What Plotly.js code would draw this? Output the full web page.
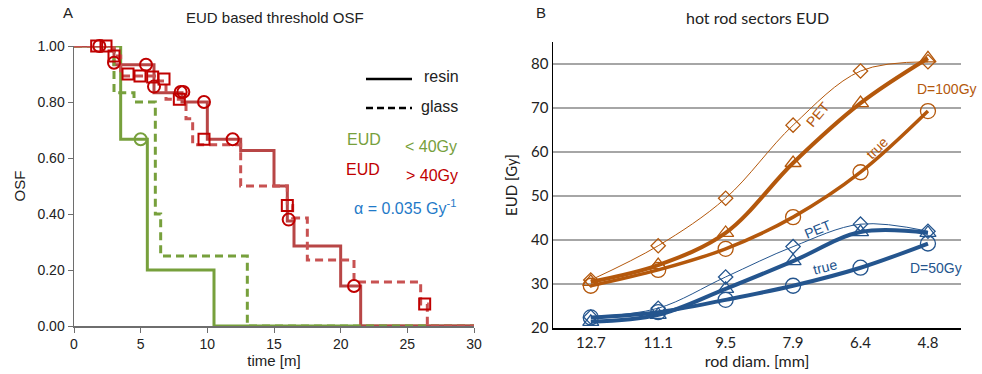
<!DOCTYPE html>
<html><head><meta charset="utf-8">
<script src="https://cdn.plot.ly/plotly-3.0.1.min.js"></script>
<style>html,body{margin:0;padding:0;background:#fff}#c{width:982px;height:374px}</style>
</head><body><div id="c"></div>
<script>
// ---- Panel A data (Kaplan-Meier style OSF steps) ----
const greenResinT = [0, 3.5, 5.5, 10.5, 30];
const greenResinS = [1.0, 0.667, 0.2, 0, 0];
const greenGlassT = [0, 3.0, 4.5, 6.1, 6.5, 13.0, 30];
const greenGlassS = [1.0, 0.833, 0.8, 0.4, 0.25, 0, 0];
const greenCensorT = [5.0];
const greenCensorS = [0.667];

const redResinT = [0, 3.0, 6.0, 8.1, 10.0, 12.5, 15.0, 16.0, 16.5, 20.0, 21.5, 30];
const redResinS = [1.0, 0.933, 0.833, 0.80, 0.667, 0.627, 0.5, 0.375, 0.286, 0.143, 0, 0];
const redResinCensorT = [1.9, 3.0, 5.4, 6.0, 8.0, 8.2, 9.75, 11.9, 16.1, 21.0];
const redResinCensorS = [1.0, 0.94, 0.933, 0.855, 0.836, 0.836, 0.80, 0.667, 0.38, 0.143];

const redGlassT = [0, 3.0, 3.5, 6.3, 6.9, 8.4, 8.9, 12.5, 16.0, 16.4, 17.5, 21.0, 26.0, 26.5, 30];
const redGlassS = [1.0, 0.964, 0.893, 0.875, 0.81, 0.74, 0.647, 0.5, 0.43, 0.386, 0.236, 0.157, 0.079, 0, 0];
const redGlassCensorT = [1.7, 2.4, 3.0, 4.05, 4.95, 5.9, 6.75, 7.9, 9.75, 16.0, 26.3];
const redGlassCensorS = [1.0, 1.0, 0.964, 0.9, 0.893, 0.889, 0.882, 0.81, 0.667, 0.43, 0.079];

// ---- Panel B data (EUD vs rod diameter) ----
const rodDiam = ["12.7", "11.1", "9.5", "7.9", "6.4", "4.8"];
const d100PET  = [30.9, 38.7, 49.5, 66.1, 78.4, 80.5];
const d100Tri  = [30.5, 34.3, 41.6, 57.5, 71.1, 81.3];
const d100True = [29.6, 33.2, 38.0, 45.2, 55.4, 69.3];
const d50PET   = [22.5, 24.5, 31.6, 38.5, 43.6, 42.0];
const d50Tri   = [21.4, 23.0, 28.9, 35.2, 41.8, 41.6];
const d50True  = [22.4, 23.6, 26.4, 29.6, 33.7, 39.2];

const GREEN = '#77a03c', RED_L = '#b84646', RED_D = '#c85252', RED_M = '#c00000';
const ORANGE = '#b4580c', BLUE = '#24558e';
const ARIAL = 'Liberation Sans, Arial, sans-serif';
const CAL = 'Lato, Open Sans, sans-serif';

function step(x, y, color, dash, width) {
  return {x: x, y: y, type: 'scatter', mode: 'lines', xaxis: 'x', yaxis: 'y',
    line: {shape: 'hv', color: color, width: width || 3, dash: dash || 'solid'},
    cliponaxis: false, hoverinfo: 'skip'};
}
function marks(x, y, sym) {
  return {x: x, y: y, type: 'scatter', mode: 'markers', xaxis: 'x', yaxis: 'y',
    marker: {symbol: sym, size: sym === 'circle-open' ? 12 : 11, color: RED_M, line: {color: RED_M, width: 2}},
    cliponaxis: false, hoverinfo: 'skip'};
}
function curve(y, color, width, sym, size) {
  return {x: rodDiam, y: y, type: 'scatter', mode: 'lines+markers', xaxis: 'x2', yaxis: 'y2',
    line: {shape: 'spline', smoothing: 1, color: color, width: width},
    marker: {symbol: sym, size: size, color: color, line: {color: color, width: 1.3}},
    cliponaxis: false, hoverinfo: 'skip'};
}

const traces = [
  step(greenResinT, greenResinS, GREEN, 'solid'),
  step(redResinT, redResinS, RED_L, 'solid'),
  step(greenGlassT, greenGlassS, GREEN, '8px,5px'),
  step(redGlassT, redGlassS, RED_D, '8px,5px'),
  {x: greenCensorT, y: greenCensorS, type: 'scatter', mode: 'markers', xaxis: 'x', yaxis: 'y',
   marker: {symbol: 'circle-open', size: 12, color: GREEN, line: {color: GREEN, width: 2}}, cliponaxis: false},
  marks(redResinCensorT, redResinCensorS, 'circle-open'),
  marks(redGlassCensorT, redGlassCensorS, 'square-open'),
  curve(d100PET, ORANGE, 1, 'diamond-open', 11),
  curve(d100Tri, ORANGE, 4, 'triangle-up-open', 14),
  curve(d100True, ORANGE, 3.5, 'circle-open', 15),
  curve(d50PET, BLUE, 1, 'diamond-open', 11),
  curve(d50Tri, BLUE, 4, 'triangle-up-open', 14),
  curve(d50True, BLUE, 4, 'circle-open', 15)
];

const W = 982, H = 374;
function px(x) { return x / W; }
function py(y) { return 1 - y / H; }
function ann(text, x, y, size, color, opts) {
  return Object.assign({text: text, x: px(x), y: py(y), xref: 'paper', yref: 'paper',
    xanchor: 'center', yanchor: 'middle',
    showarrow: false, font: {family: ARIAL, size: size, color: color}}, opts || {});
}

const layout = {
  width: W, height: H, margin: {l: 0, r: 0, t: 0, b: 0},
  paper_bgcolor: '#fff', plot_bgcolor: 'rgba(0,0,0,0)', showlegend: false,
  xaxis: {domain: [px(74), px(474)], range: [0, 30], tickvals: [0, 5, 10, 15, 20, 25, 30],
    showgrid: false, zeroline: false, showline: true, linecolor: '#6e6e6e', linewidth: 1.5,
    ticks: 'outside', ticklen: 5, tickcolor: '#6e6e6e',
    tickfont: {family: ARIAL, size: 14, color: '#222'},
    title: {text: 'time [m]', font: {family: ARIAL, size: 15, color: '#222'}, standoff: 3}},
  yaxis: {domain: [py(326), py(46)], range: [0, 1], tickvals: [0, 0.2, 0.4, 0.6, 0.8, 1.0],
    tickformat: '.2f', showgrid: false, zeroline: false, showline: true, linecolor: '#6e6e6e', linewidth: 1.5,
    ticks: 'outside', ticklen: 5, tickcolor: '#6e6e6e',
    tickfont: {family: ARIAL, size: 14, color: '#222'},
    title: {text: 'OSF', font: {family: ARIAL, size: 15, color: '#222'}, standoff: 8}},
  xaxis2: {domain: [px(553), px(961)], range: [-0.56, 5.49], type: 'category', anchor: 'y2',
    showgrid: false, zeroline: false, showline: true, linecolor: '#000', linewidth: 1.5, ticks: '',
    tickfont: {family: CAL, size: 15, color: '#222'},
    title: {text: 'rod diam. [mm]', font: {family: CAL, size: 16, color: '#222'}, standoff: 6}},
  yaxis2: {domain: [py(328), py(42)], range: [20, 85], anchor: 'x2', tickvals: [20, 30, 40, 50, 60, 70, 80],
    showgrid: true, gridcolor: '#a6a6a6', gridwidth: 1.2, zeroline: false, showline: true,
    linecolor: '#000', linewidth: 1.5, ticks: '',
    tickfont: {family: CAL, size: 15, color: '#222'},
    title: {text: 'EUD [Gy]', font: {family: CAL, size: 15, color: '#222'}, standoff: 10}},
  shapes: [
    {type: 'line', xref: 'paper', yref: 'paper', x0: px(366), x1: px(412), y0: py(79), y1: py(79), line: {color: '#000', width: 2.5}},
    {type: 'line', xref: 'paper', yref: 'paper', x0: px(366), x1: px(412), y0: py(108), y1: py(108), line: {color: '#000', width: 2.5, dash: '7px,4px'}}
  ],
  annotations: [
    ann('A', 68, 12, 15, '#222'),
    ann('EUD based threshold OSF', 275, 18, 15, '#222'),
    ann('resin', 422, 77, 16, '#222', {xanchor: 'left'}),
    ann('glass', 419, 106, 16, '#222', {xanchor: 'left'}),
    ann('EUD', 345, 140, 16, GREEN, {xanchor: 'left'}),
    ann('< 40Gy', 403, 146, 16, GREEN, {xanchor: 'left'}),
    ann('EUD', 344, 169, 16, '#c00000', {xanchor: 'left'}),
    ann('> 40Gy', 404, 175, 16, '#c00000', {xanchor: 'left'}),
    ann('α = 0.035 Gy<sup>-1</sup>', 352, 207, 16, '#1f7ac8', {xanchor: 'left'}),
    ann('B', 541, 12, 15, '#222'),
    {text: 'hot rod sectors EUD', x: px(757), y: py(18), xref: 'paper', yref: 'paper', showarrow: false,
     xanchor: 'center', yanchor: 'middle', font: {family: CAL, size: 16, color: '#222'}},
    ann('D=100Gy', 947, 89, 14, ORANGE),
    ann('D=50Gy', 936, 268, 14, BLUE),
    ann('PET', 818, 114, 14, ORANGE, {textangle: -50}),
    ann('true', 877, 148, 14, ORANGE, {textangle: -45}),
    ann('PET', 818, 229, 14, BLUE, {textangle: -22}),
    ann('true', 825, 267, 14, BLUE, {textangle: -14})
  ]
};

Plotly.newPlot('c', traces, layout, {staticPlot: true, displayModeBar: false});
</script></body></html>
